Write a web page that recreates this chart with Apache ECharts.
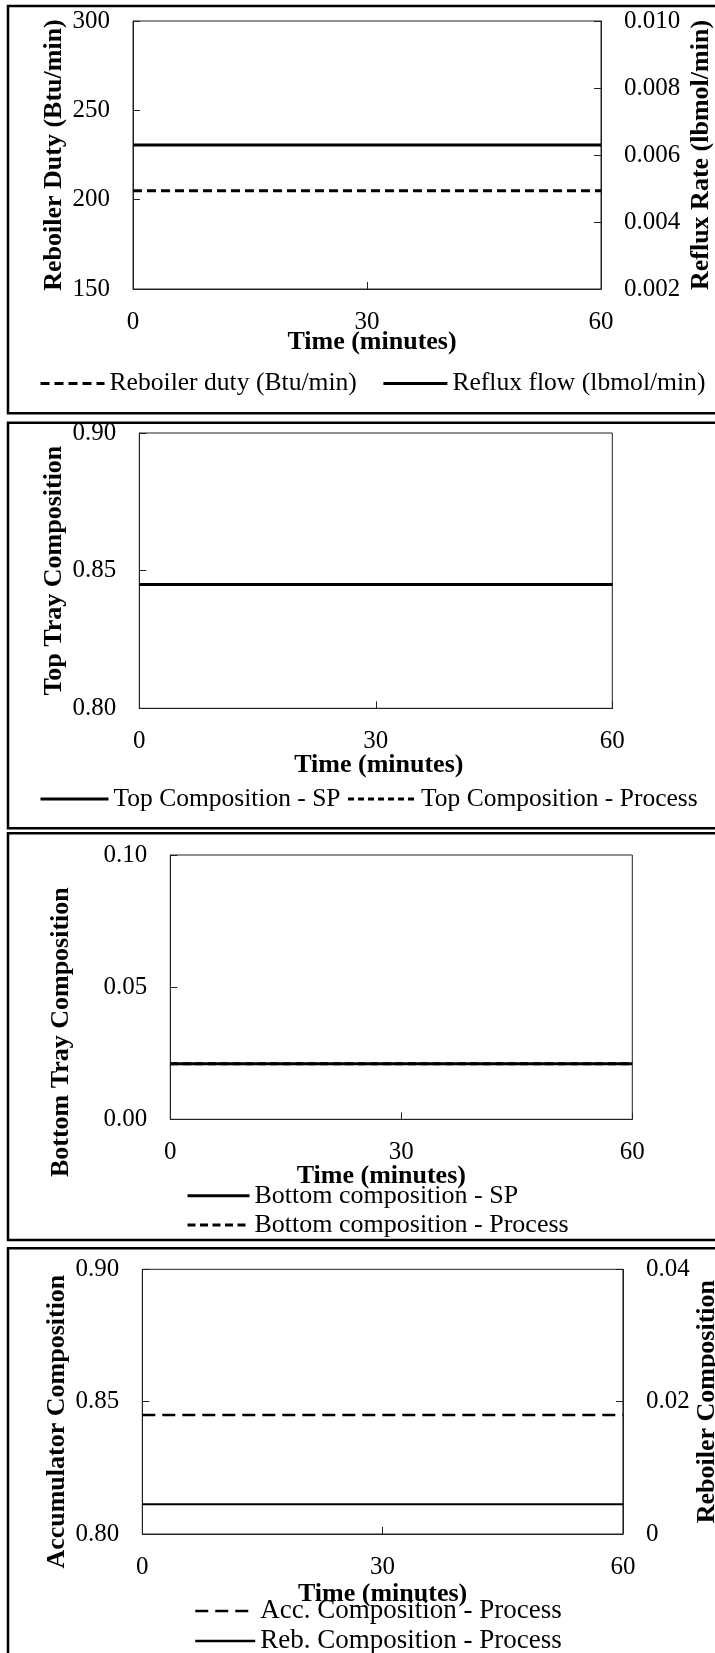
<!DOCTYPE html>
<html>
<head>
<meta charset="utf-8">
<script src="https://cdn.jsdelivr.net/npm/echarts@6/dist/echarts.min.js"></script>
<style>
  html, body { margin: 0; padding: 0; background: #fff; }
  #chart { width: 715px; height: 1653px; }
</style>
</head>
<body>
<div id="chart"></div>
<script>
// ---- data ----
const time = [0, 10, 20, 30, 40, 50, 60];
const timeTicks = [0, 30, 60];

// Panel 1: manipulated variables
const reboilerDuty = [205, 205, 205, 205, 205, 205, 205];           // Btu/min
const refluxFlow = [0.0063, 0.0063, 0.0063, 0.0063, 0.0063, 0.0063, 0.0063]; // lbmol/min
const dutyTicks = [150, 200, 250, 300];
const refluxTicks = [0.002, 0.004, 0.006, 0.008, 0.010];

// Panel 2: top tray composition
const topCompSP = [0.845, 0.845, 0.845, 0.845, 0.845, 0.845, 0.845];
const topCompProcess = [0.845, 0.845, 0.845, 0.845, 0.845, 0.845, 0.845];
const topTicks = [0.80, 0.85, 0.90];

// Panel 3: bottom tray composition
const bottomCompSP = [0.021, 0.021, 0.021, 0.021, 0.021, 0.021, 0.021];
const bottomCompProcess = [0.021, 0.021, 0.021, 0.021, 0.021, 0.021, 0.021];
const bottomTicks = [0.00, 0.05, 0.10];

// Panel 4: accumulator and reboiler compositions
const accCompProcess = [0.845, 0.845, 0.845, 0.845, 0.845, 0.845, 0.845];
const rebCompProcess = [0.0045, 0.0045, 0.0045, 0.0045, 0.0045, 0.0045, 0.0045];
const accTicks = [0.80, 0.85, 0.90];
const rebTicks = [0, 0.02, 0.04];

// ---- helpers ----
const FONT = "'Liberation Serif', 'Times New Roman', Times, serif";
const pairs = ys => time.map((t, i) => [t, ys[i]]);
const step = ticks => +(ticks[1] - ticks[0]).toFixed(10);

function axis(ticks, extra, labelExtra, nameExtra) {
  return Object.assign({
    type: 'value',
    min: ticks[0],
    max: ticks[ticks.length - 1],
    interval: step(ticks),
    splitLine: { show: false },
    axisLine: { show: true, onZero: false, lineStyle: { color: '#222', width: 1 } },
    axisTick: { show: true, inside: true, length: 7, lineStyle: { color: '#222', width: 1 } },
    axisLabel: Object.assign({ color: '#000', fontFamily: FONT, fontSize: 25, margin: 23 }, labelExtra || {}),
    nameLocation: 'middle',
    nameMoveOverlap: false,
    nameTextStyle: Object.assign({ color: '#000', fontFamily: FONT, fontSize: 26, fontWeight: 'bold', lineHeight: 26 }, nameExtra || {})
  }, extra);
}

function timeAxis(gridIndex, gap, nameExtra) {
  return axis(timeTicks, { gridIndex, name: 'Time (minutes)', nameGap: gap }, { margin: 21 }, nameExtra);
}

function line(name, xi, yi, values, width, dash, z) {
  return {
    type: 'line', name, xAxisIndex: xi, yAxisIndex: yi,
    data: pairs(values), symbol: 'none', silent: true, z: z,
    lineStyle: { color: '#000', width, type: dash },
    itemStyle: { color: '#000' }
  };
}

function legend(box, orient, itemWidth, itemGap, fontSize, width, names) {
  return Object.assign({
    orient, itemWidth, itemHeight: 14, itemGap, padding: 0,
    selectedMode: false,
    itemStyle: { opacity: 0 },
    lineStyle: { width },
    textStyle: { color: '#000', fontFamily: FONT, fontSize, lineHeight: fontSize },
    data: names
  }, box);
}

function grid(left, top, width, height) {
  return {
    left, top, width, height,
    containLabel: false, outerBoundsMode: 'none',
    show: true, borderColor: '#222', borderWidth: 1
  };
}

const fmt = d => v => v.toFixed(d);

// ---- chart ----
const chart = echarts.init(document.getElementById('chart'), null, { renderer: 'canvas' });

const frameStyle = { fill: 'none', stroke: '#000', lineWidth: 2.5 };

chart.setOption({
  animation: false,
  backgroundColor: '#fff',
  graphic: [
    { type: 'rect', silent: true, shape: { x: 8, y: 6, width: 720, height: 407.3 }, style: frameStyle },
    { type: 'rect', silent: true, shape: { x: 8, y: 422.7, width: 720, height: 405.6 }, style: frameStyle },
    { type: 'rect', silent: true, shape: { x: 8, y: 833.3, width: 720, height: 406.7 }, style: frameStyle },
    { type: 'rect', silent: true, shape: { x: 8, y: 1248.3, width: 720, height: 420 }, style: frameStyle }
  ],
  grid: [
    grid(133, 21, 468, 268),
    grid(139.3, 433, 473, 275.3),
    grid(170.3, 855, 462, 264.3),
    grid(142.3, 1269.3, 480.6, 264.7)
  ],
  xAxis: [
    timeAxis(0, 40, { padding: [0, 0, 0, 10] }),
    timeAxis(1, 44, { padding: [0, 0, 0, 6] }),
    timeAxis(2, 43.5, { padding: [0, 40, 0, 0] }),
    timeAxis(3, 47)
  ],
  yAxis: [
    axis(dutyTicks, { gridIndex: 0, position: 'left', name: 'Reboiler Duty (Btu/min)', nameGap: 66 }, { formatter: fmt(0) }),
    axis(refluxTicks, { gridIndex: 0, position: 'right', name: 'Reflux Rate (lbmol/min)', nameGap: 87 }, { formatter: fmt(3) }),
    axis(topTicks, { gridIndex: 1, position: 'left', name: 'Top Tray Composition', nameGap: 72 }, { formatter: fmt(2) }),
    axis(bottomTicks, { gridIndex: 2, position: 'left', name: 'Bottom Tray Composition', nameGap: 96 }, { formatter: fmt(2) }, { padding: [0, 90, 0, 0] }),
    axis(accTicks, { gridIndex: 3, position: 'left', name: 'Accumulator Composition', nameGap: 72 }, { formatter: fmt(2) }, { padding: [0, 40, 0, 0] }),
    axis(rebTicks, { gridIndex: 3, position: 'right', name: 'Reboiler Composition', nameGap: 71 }, { formatter: v => (v === 0 ? '0' : v.toFixed(2)) })
  ],
  legend: [
    legend({ left: 39, top: 370.5, width: 690 }, 'horizontal', 64, 25, 25.6, 3, ['Reboiler duty (Btu/min)', 'Reflux flow (lbmol/min)']),
    legend({ left: 39, top: 786, width: 690 }, 'horizontal', 68, 6, 25.5, 3, ['Top Composition - SP', 'Top Composition - Process']),
    legend({ left: 186, top: 1182.7, height: 90 }, 'vertical', 62, 3.3, 26, 3, ['Bottom composition - SP', 'Bottom composition - Process']),
    legend({ left: 194, top: 1597.5, height: 90 }, 'vertical', 60, 3, 27, 2.5, ['Acc. Composition - Process', 'Reb. Composition - Process'])
  ],
  series: [
    line('Reboiler duty (Btu/min)', 0, 0, reboilerDuty, 3, [9, 5], 3),
    line('Reflux flow (lbmol/min)', 0, 1, refluxFlow, 3, 'solid', 3),
    line('Top Composition - SP', 1, 2, topCompSP, 3, 'solid', 4),
    line('Top Composition - Process', 1, 2, topCompProcess, 2, [6, 4], 3),
    line('Bottom composition - SP', 2, 3, bottomCompSP, 3, 'solid', 4),
    line('Bottom composition - Process', 2, 3, bottomCompProcess, 3, [8, 4.5], 3),
    line('Acc. Composition - Process', 3, 4, accCompProcess, 2.5, [13, 7], 3),
    line('Reb. Composition - Process', 3, 5, rebCompProcess, 2, 'solid', 3)
  ]
});
</script>
</body>
</html>
